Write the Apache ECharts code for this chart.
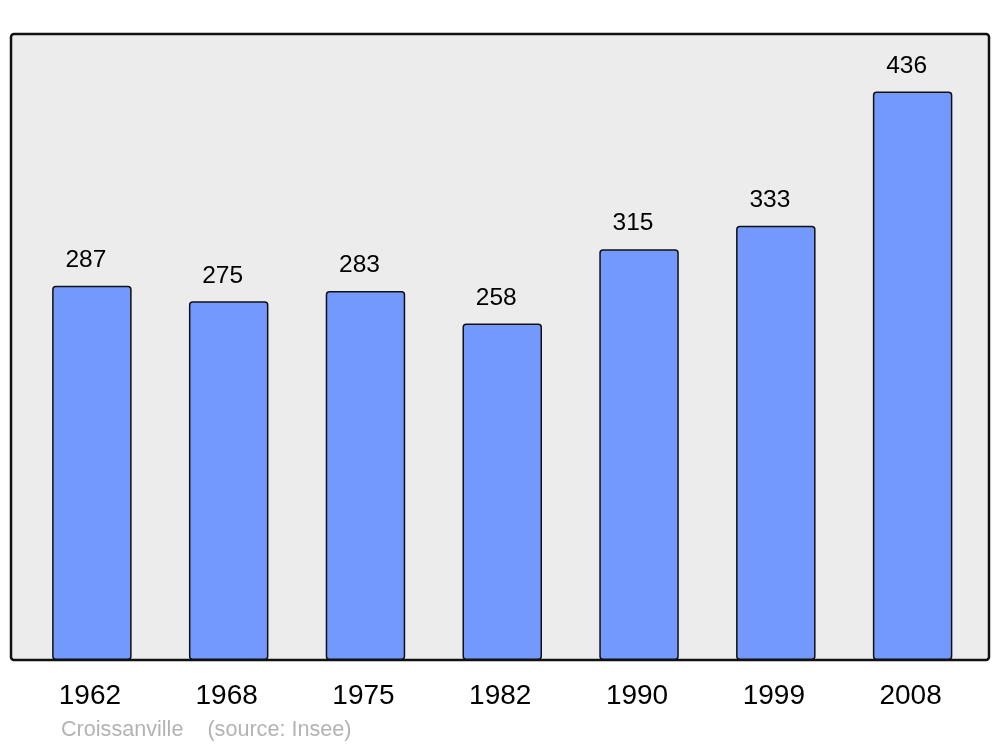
<!DOCTYPE html>
<html><head><meta charset="utf-8">
<script src="https://cdn.jsdelivr.net/npm/echarts@6/dist/echarts.min.js"></script>
<style>html,body{margin:0;padding:0;background:#fff}#c{width:1000px;height:747px}</style>
</head><body><div id="c"></div>
<script>
const years = ['1962','1968','1975','1982','1990','1999','2008'];
const population = [287, 275, 283, 258, 315, 333, 436];
const footerText = 'Croissanville    (source: Insee)';

const chart = echarts.init(document.getElementById('c'), null, {renderer: 'canvas'});
const font = '"Liberation Sans", Arial, sans-serif';
chart.setOption({
  animation: false,
  backgroundColor: '#ffffff',
  graphic: [
    {type: 'rect', shape: {x: 11, y: 34, width: 978, height: 626, r: 3},
     style: {fill: '#ececec', stroke: '#111111', lineWidth: 2.5}, z: -10},
    {type: 'text', left: 61, top: 719,
     style: {text: footerText, fill: '#b3b3b3', font: '21.6px ' + font}}
  ],
  grid: {left: 23.5, right: 19, top: 34, bottom: 87, containLabel: false},
  xAxis: {
    type: 'category', data: years,
    axisLine: {show: false}, axisTick: {show: false},
    axisLabel: {color: '#000', fontSize: 28, fontFamily: font, margin: 22, padding: [0, 4, 0, 0]}
  },
  yAxis: {
    type: 'value', min: 0, max: 480, show: false, splitLine: {show: false}
  },
  series: [{
    type: 'bar', data: population, barWidth: 79.5,
    itemStyle: {color: '#7399ff', borderColor: '#111111', borderWidth: 1.5, borderRadius: 3},
    label: {show: true, position: 'top', distance: 13, offset: [-6, 0], color: '#000', fontSize: 24.5, fontFamily: font}
  }]
});
</script></body></html>
